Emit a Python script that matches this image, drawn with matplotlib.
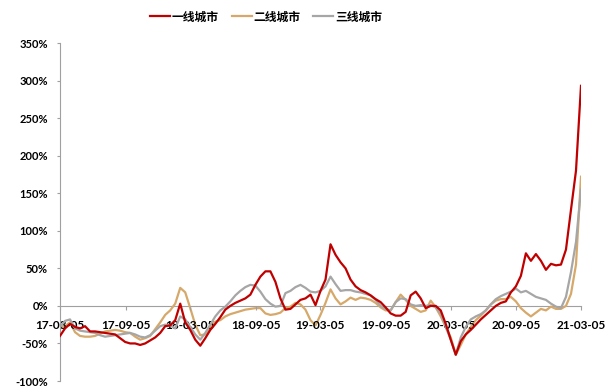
import matplotlib
matplotlib.use("Agg")
import matplotlib.pyplot as plt
import matplotlib.dates as mdates
import pandas as pd
from matplotlib.ticker import FuncFormatter, MultipleLocator

plt.rcParams['font.family'] = ['Lato', 'Noto Sans CJK SC', 'DejaVu Sans']

# Biweekly observation dates, Mar 2017 - Mar 2021
dates = pd.date_range('2017-03-05', '2021-03-05', periods=105)

series_names = ['一线城市', '二线城市', '三线城市']

tier1 = [-40, -30, -24, -28, -30, -27, -34, -34, -35, -36,
         -37, -38, -43, -48, -50, -50, -52, -50, -46, -42,
         -36, -27, -26, -19, 3, -22, -32, -45, -53, -43,
         -32, -24, -15, -5, 0, 4, 7, 10, 15, 28,
         39, 46, 46, 32, 10, -5, -4, 2, 8, 10,
         15, 1, 20, 35, 82, 68, 58, 50, 35, 26,
         21, 18, 14, 9, 5, -2, -10, -13, -13, -8,
         14, 19, 10, -3, 0, 0, -6, -24, -45, -65,
         -47, -38, -32, -25, -18, -12, -6, 0, 4, 6,
         18, 26, 40, 70, 60, 69, 60, 48, 56, 54,
         55, 75, 128, 180, 293]

tier2 = [-28, -27, -22, -35, -40, -41, -41, -40, -37, -34,
         -33, -32, -33, -35, -36, -41, -45, -43, -40, -31,
         -22, -12, -6, 3, 24, 18, -3, -25, -39, -38,
         -28, -21, -19, -14, -11, -9, -7, -5, -4, -3,
         -3, -10, -12, -11, -9, -3, -1, 4, 2, -5,
         -19, -26, -12, 4, 22, 10, 2, 6, 11, 8,
         11, 10, 8, 4, -2, -6, -6, 5, 15, 8,
         0, -4, -8, -6, 7, -2, -14, -28, -42, -65,
         -52, -38, -28, -19, -13, -6, 2, 7, 9, 9,
         12, 6, -3, -9, -14, -9, -4, -6, -1, -4,
         -4, 0, 16, 55, 172]

tier3 = [-28, -20, -18, -30, -33, -34, -35, -36, -39, -41,
         -40, -39, -38, -37, -36, -38, -41, -42, -39, -33,
         -27, -25, -26, -30, -14, -18, -28, -38, -45, -36,
         -25, -14, -6, -1, 6, 14, 20, 25, 28, 27,
         19, 9, 3, -1, 0, 17, 20, 25, 28, 24,
         19, 18, 20, 26, 39, 29, 20, 21, 21, 19,
         18, 16, 14, 8, 0, -4, -6, 5, 10, 9,
         2, 0, 1, 0, 1, -2, -10, -28, -45, -65,
         -42, -28, -18, -14, -11, -6, 2, 9, 13, 16,
         19, 23, 18, 20, 16, 12, 10, 8, 3, -1,
         -3, 12, 45, 85, 155]

colors = ['#C00000', '#D6A96A', '#A6A6A6']

fig = plt.figure(figsize=(6.15, 3.91), dpi=100)
ax = fig.add_axes([60 / 615, 10 / 391, 521 / 615, 338 / 391])

# draw order: tier 1 on top
lines = []
for vals, c, name, z in zip([tier1, tier2, tier3], colors, series_names, [3, 1, 2]):
    ln, = ax.plot(dates, vals, color=c, lw=1.6, label=name, zorder=z,
                  solid_joinstyle='round')
    lines.append(ln)

ax.set_ylim(-100, 350)
ax.set_xlim(pd.Timestamp('2017-03-05'), pd.Timestamp('2021-03-05'))
ax.yaxis.set_major_locator(MultipleLocator(50))
ax.yaxis.set_major_formatter(FuncFormatter(lambda v, p: f'{int(v)}%'))

xticks = pd.date_range('2017-03-05', '2021-03-05', freq=pd.DateOffset(months=6))
ax.set_xticks(xticks)
ax.xaxis.set_major_formatter(mdates.DateFormatter('%y-%m-%d'))

axis_color = '#A0A0A0'
ax.spines['top'].set_visible(False)
ax.spines['right'].set_visible(False)
ax.spines['bottom'].set_position(('data', 0))
ax.spines['bottom'].set_color(axis_color)
ax.spines['left'].set_color(axis_color)
ax.spines['bottom'].set_zorder(0.5)

ax.tick_params(axis='y', direction='out', length=2.2, color=axis_color,
               labelsize=8, pad=6.5)
ax.tick_params(axis='x', direction='out', length=3, color=axis_color,
               labelsize=8.5, pad=7)
for lab in ax.get_xticklabels() + ax.get_yticklabels():
    lab.set_fontweight('bold')

leg = fig.legend(handles=lines, loc='center', bbox_to_anchor=(266 / 615, 1 - 17 / 391),
                 ncol=3, frameon=False, handlelength=1.7, handletextpad=0.15,
                 columnspacing=1.1,
                 prop={'family': ['Noto Sans CJK SC', 'DejaVu Sans'],
                       'weight': 'bold', 'size': 8.5})

fig.savefig('out.png', dpi=100)
